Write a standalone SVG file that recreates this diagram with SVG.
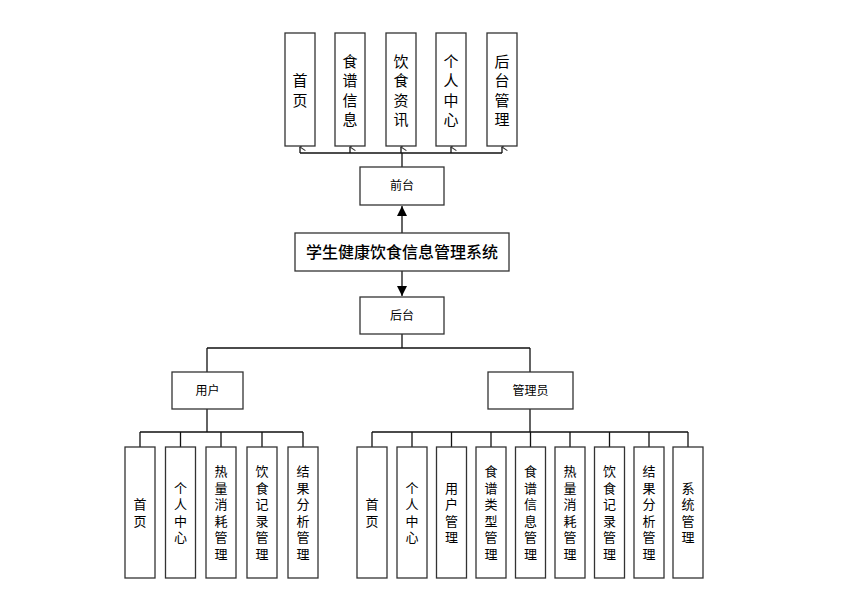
<svg xmlns="http://www.w3.org/2000/svg" width="848" height="610" viewBox="0 0 848 610">
<style>
.box{fill:#fff;stroke:#333;stroke-width:1.3}
.t{font-family:"Liberation Sans","Noto Sans CJK SC",sans-serif;fill:#000;text-anchor:middle;dominant-baseline:central}
.top{font-size:15px}
.bot{font-size:13px}
.lbl{font-size:12px}
.ttl{font-size:16px;font-weight:500}
.ln{fill:none;stroke:#111;stroke-width:1.3}
</style>
<defs>
<marker id="open" viewBox="0 0 10 10" refX="5" refY="1" markerWidth="9" markerHeight="9" markerUnits="userSpaceOnUse" orient="auto-start-reverse">
<path d="M1,7 L5,1 L9,7" fill="none" stroke="#333" stroke-width="1.2"/>
</marker>
<marker id="solid" viewBox="0 0 10 10" refX="10" refY="5" markerWidth="10" markerHeight="10" markerUnits="userSpaceOnUse" orient="auto">
<path d="M0,0 L10,5 L0,10 Z" fill="#000"/>
</marker>
</defs>
<rect width="848" height="610" fill="#fff"/>

<g id="connectors">
<path class="ln" d="M300,153 H502"/>
<path class="ln" d="M300,153 V147" marker-end="url(#open)"/>
<path class="ln" d="M350,153 V147" marker-end="url(#open)"/>
<path class="ln" d="M401,153 V147" marker-end="url(#open)"/>
<path class="ln" d="M451,153 V147" marker-end="url(#open)"/>
<path class="ln" d="M502,153 V147" marker-end="url(#open)"/>
<path class="ln" d="M402,167 V153"/>
<path class="ln" d="M402,233 V206" marker-end="url(#solid)"/>
<path class="ln" d="M402,271 V296" marker-end="url(#solid)"/>
<path class="ln" d="M402,334 V348 M207,348 H530 M207,348 V372 M530,348 V372"/>
<path class="ln" d="M207,409 V432 M140,432 H303 M140,432 V447 M180.5,432 V447 M221,432 V447 M262,432 V447 M303,432 V447"/>
<path class="ln" d="M530,409 V432 M372,432 H688 M372,432 V447 M412,432 V447 M451.5,432 V447 M491,432 V447 M530.5,432 V447 M570,432 V447 M609.5,432 V447 M649,432 V447 M688,432 V447"/>
</g>

<g id="n-home"><rect class="box" x="285" y="33" width="30" height="113"/><text class="t top"><tspan x="300" y="80">首</tspan><tspan x="300" y="99.5">页</tspan></text></g>
<g id="n-recipe"><rect class="box" x="335" y="33" width="30" height="113"/><text class="t top"><tspan x="350" y="60.5">食</tspan><tspan x="350" y="80">谱</tspan><tspan x="350" y="99.5">信</tspan><tspan x="350" y="119">息</tspan></text></g>
<g id="n-news"><rect class="box" x="386" y="33" width="30" height="113"/><text class="t top"><tspan x="401" y="60.5">饮</tspan><tspan x="401" y="80">食</tspan><tspan x="401" y="99.5">资</tspan><tspan x="401" y="119">讯</tspan></text></g>
<g id="n-center"><rect class="box" x="436" y="33" width="30" height="113"/><text class="t top"><tspan x="451" y="60.5">个</tspan><tspan x="451" y="80">人</tspan><tspan x="451" y="99.5">中</tspan><tspan x="451" y="119">心</tspan></text></g>
<g id="n-admin"><rect class="box" x="487" y="33" width="30" height="113"/><text class="t top"><tspan x="502" y="60.5">后</tspan><tspan x="502" y="80">台</tspan><tspan x="502" y="99.5">管</tspan><tspan x="502" y="119">理</tspan></text></g>

<g id="n-front"><rect class="box" x="360" y="167" width="84" height="38"/><text class="t lbl" x="402" y="186">前台</text></g>
<g id="n-main"><rect class="box" x="295" y="233" width="214" height="38"/><text class="t ttl" x="402" y="252">学生健康饮食信息管理系统</text></g>
<g id="n-back"><rect class="box" x="360" y="297" width="84" height="37"/><text class="t lbl" x="402" y="316">后台</text></g>
<g id="n-user"><rect class="box" x="172" y="372" width="71" height="37"/><text class="t lbl" x="207.5" y="391">用户</text></g>
<g id="n-manager"><rect class="box" x="488" y="372" width="85" height="37"/><text class="t lbl" x="530.5" y="391">管理员</text></g>

<g id="u-home"><rect class="box" x="125" y="447" width="30" height="131"/><text class="t bot"><tspan x="140" y="504">首</tspan><tspan x="140" y="520.5">页</tspan></text></g>
<g id="u-center"><rect class="box" x="165.5" y="447" width="30" height="131"/><text class="t bot"><tspan x="180.5" y="487.5">个</tspan><tspan x="180.5" y="504">人</tspan><tspan x="180.5" y="520.5">中</tspan><tspan x="180.5" y="537">心</tspan></text></g>
<g id="u-heat"><rect class="box" x="206" y="447" width="30" height="131"/><text class="t bot"><tspan x="221" y="471">热</tspan><tspan x="221" y="487.5">量</tspan><tspan x="221" y="504">消</tspan><tspan x="221" y="520.5">耗</tspan><tspan x="221" y="537">管</tspan><tspan x="221" y="553.5">理</tspan></text></g>
<g id="u-diet"><rect class="box" x="247" y="447" width="30" height="131"/><text class="t bot"><tspan x="262" y="471">饮</tspan><tspan x="262" y="487.5">食</tspan><tspan x="262" y="504">记</tspan><tspan x="262" y="520.5">录</tspan><tspan x="262" y="537">管</tspan><tspan x="262" y="553.5">理</tspan></text></g>
<g id="u-result"><rect class="box" x="288" y="447" width="30" height="131"/><text class="t bot"><tspan x="303" y="471">结</tspan><tspan x="303" y="487.5">果</tspan><tspan x="303" y="504">分</tspan><tspan x="303" y="520.5">析</tspan><tspan x="303" y="537">管</tspan><tspan x="303" y="553.5">理</tspan></text></g>

<g id="a-home"><rect class="box" x="357" y="447" width="30" height="131"/><text class="t bot"><tspan x="372" y="504">首</tspan><tspan x="372" y="520.5">页</tspan></text></g>
<g id="a-center"><rect class="box" x="397" y="447" width="30" height="131"/><text class="t bot"><tspan x="412" y="487.5">个</tspan><tspan x="412" y="504">人</tspan><tspan x="412" y="520.5">中</tspan><tspan x="412" y="537">心</tspan></text></g>
<g id="a-user"><rect class="box" x="436.5" y="447" width="30" height="131"/><text class="t bot"><tspan x="451.5" y="487.5">用</tspan><tspan x="451.5" y="504">户</tspan><tspan x="451.5" y="520.5">管</tspan><tspan x="451.5" y="537">理</tspan></text></g>
<g id="a-type"><rect class="box" x="476" y="447" width="30" height="131"/><text class="t bot"><tspan x="491" y="471">食</tspan><tspan x="491" y="487.5">谱</tspan><tspan x="491" y="504">类</tspan><tspan x="491" y="520.5">型</tspan><tspan x="491" y="537">管</tspan><tspan x="491" y="553.5">理</tspan></text></g>
<g id="a-recipe"><rect class="box" x="515.5" y="447" width="30" height="131"/><text class="t bot"><tspan x="530.5" y="471">食</tspan><tspan x="530.5" y="487.5">谱</tspan><tspan x="530.5" y="504">信</tspan><tspan x="530.5" y="520.5">息</tspan><tspan x="530.5" y="537">管</tspan><tspan x="530.5" y="553.5">理</tspan></text></g>
<g id="a-heat"><rect class="box" x="555" y="447" width="30" height="131"/><text class="t bot"><tspan x="570" y="471">热</tspan><tspan x="570" y="487.5">量</tspan><tspan x="570" y="504">消</tspan><tspan x="570" y="520.5">耗</tspan><tspan x="570" y="537">管</tspan><tspan x="570" y="553.5">理</tspan></text></g>
<g id="a-diet"><rect class="box" x="594.5" y="447" width="30" height="131"/><text class="t bot"><tspan x="609.5" y="471">饮</tspan><tspan x="609.5" y="487.5">食</tspan><tspan x="609.5" y="504">记</tspan><tspan x="609.5" y="520.5">录</tspan><tspan x="609.5" y="537">管</tspan><tspan x="609.5" y="553.5">理</tspan></text></g>
<g id="a-result"><rect class="box" x="634" y="447" width="30" height="131"/><text class="t bot"><tspan x="649" y="471">结</tspan><tspan x="649" y="487.5">果</tspan><tspan x="649" y="504">分</tspan><tspan x="649" y="520.5">析</tspan><tspan x="649" y="537">管</tspan><tspan x="649" y="553.5">理</tspan></text></g>
<g id="a-system"><rect class="box" x="673" y="447" width="30" height="131"/><text class="t bot"><tspan x="688" y="487.5">系</tspan><tspan x="688" y="504">统</tspan><tspan x="688" y="520.5">管</tspan><tspan x="688" y="537">理</tspan></text></g>
</svg>
